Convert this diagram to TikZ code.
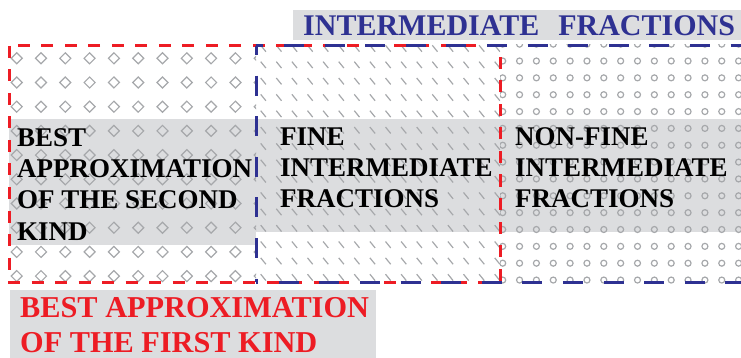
\documentclass[tikz,border=0pt]{standalone}
\usepackage{fontspec}
\setmainfont{Liberation Serif}
\definecolor{myred}{HTML}{ED1C24}
\definecolor{myblue}{HTML}{2E3192}
\definecolor{bandgray}{HTML}{DCDDDF}
\definecolor{patgray}{HTML}{A6A8AB}
\tikzset{
  band/.style={fill=bandgray},
  pat/.style={draw=patgray, line width=1.2pt},
  regtext/.style={anchor=north west, inner sep=0pt, align=left, font=\fontsize{27}{31.3}\selectfont\bfseries, text=black},
  redbox/.style={draw=myred, line width=3pt, dash pattern=on 12pt off 11.5pt},
  bluebox/.style={draw=myblue, line width=3pt, dash pattern=on 20pt off 20.6pt}
}
\begin{document}
\begin{tikzpicture}[x=1pt,y=-1pt]
\useasboundingbox (0,0) rectangle (741,358);
% gray bands
\fill[band] (9,119) rectangle (256,245);
\fill[band] (256,119) rectangle (500,232);
\fill[band] (500,119) rectangle (741,232);
\fill[band] (293,10) rectangle (741,40);
\fill[band] (10,290) rectangle (376,358);
% pattern: diamonds
\begin{scope}
\clip (9,46) rectangle (256,282);
\foreach \i in {0,...,10} {
  \foreach \j in {0,...,9} {
    \draw[pat] ({16.7+24.3*\i-5.5},{58.3+24.2*\j}) -- ++(5.5,-5.5) -- ++(5.5,5.5) -- ++(-5.5,5.5) -- cycle;
  }
}
\end{scope}
% pattern: slashes
\begin{scope}
\clip (256,44) rectangle (500,284);
\foreach \i in {0,...,15} {
  \foreach \j in {0,...,14} {
    \draw[pat, line width=1.2pt] ({263.3+15.6*\i-2.6},{48.5+16.35*\j-3.2}) -- ++(5.2,6.4);
  }
}
\end{scope}
% pattern: circles
\begin{scope}
\clip (500,45) rectangle (741,285);
\foreach \i in {0,...,14} {
  \foreach \j in {-1,...,13} {
    \draw[pat] ({502.7+16.85*\i},{61+16.85*\j}) circle[radius=3pt];
  }
}
\end{scope}
% texts
\node[regtext] (second) at (17,126) {\rule{0pt}{20pt}BEST\\APPROXIMATION\\OF THE SECOND\\KIND};
\node[regtext] (fine) at (280,125) {\rule{0pt}{20pt}FINE\\INTERMEDIATE\\FRACTIONS};
\node[regtext] (nonfine) at (515,125) {\rule{0pt}{20pt}NON-FINE\\INTERMEDIATE\\FRACTIONS};
\node[anchor=base west, inner sep=0pt, font=\fontsize{30}{34}\selectfont\bfseries, text=myblue] (title) at (303,36) {INTERMEDIATE\hspace{19pt}FRACTIONS};
\node[anchor=north west, inner sep=0pt, align=left, font=\fontsize{30.3}{35}\selectfont\bfseries, text=myred] (first) at (20,295) {\rule{0pt}{22pt}BEST APPROXIMATION\\OF THE FIRST KIND};
% dashed frames
\draw[redbox] (9,46) rectangle (500,282);
\draw[bluebox, dash phase=12.6pt] (256,46) -- (770,46);
\draw[bluebox, dash phase=11pt] (256,46) -- (256,282);
\draw[bluebox, dash phase=17.9pt] (256,282) -- (770,282);
\end{tikzpicture}
\end{document}
